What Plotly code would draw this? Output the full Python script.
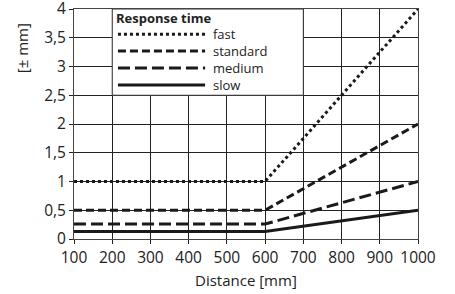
import plotly.graph_objects as go

distance = [100, 600, 1000]
fast = [1.0, 1.0, 4.0]
standard = [0.5, 0.5, 2.0]
medium = [0.26, 0.26, 1.0]
slow = [0.13, 0.13, 0.5]
series_names = ["fast", "standard", "medium", "slow"]
x_ticks = [100, 200, 300, 400, 500, 600, 700, 800, 900, 1000]
y_ticks = [0, 0.5, 1, 1.5, 2, 2.5, 3, 3.5, 4]

styles = {
    "fast": dict(dash="3px,3px", width=3),
    "standard": dict(dash="8px,4px", width=3),
    "medium": dict(dash="12px,5px", width=3),
    "slow": dict(dash="solid", width=3),
}
values = {"fast": fast, "standard": standard, "medium": medium, "slow": slow}

fig = go.Figure()
for name in series_names:
    fig.add_trace(go.Scatter(x=distance, y=values[name], mode="lines", name=name,
                             line=dict(color="#1a1a1a", **styles[name]), showlegend=False,
                             hoverinfo="skip"))

FONT = "Open Sans"
TXT = "#222"
# legend box covering grid
fig.add_shape(type="rect", x0=200, x1=700, y0=2.5, y1=4, xref="x", yref="y",
              fillcolor="white", line=dict(color="#333", width=1), layer="above")
leg_y = {"fast": 3.563, "standard": 3.268, "medium": 2.973, "slow": 2.678}
for name in series_names:
    fig.add_shape(type="line", x0=215, x1=443, y0=leg_y[name], y1=leg_y[name], xref="x", yref="y",
                  line=dict(color="#1a1a1a", width=3, dash=styles[name]["dash"]), layer="above")
fig.add_annotation(x=461, y=(leg_y["fast"] + leg_y["slow"]) / 2, xref="x", yref="y",
                   text="<br>".join(series_names), showarrow=False, align="left",
                   xanchor="left", yanchor="middle", borderpad=0,
                   font=dict(family=FONT, size=13, color=TXT))
fig.add_annotation(x=206, y=3.84, xref="x", yref="y", text="<b>Response time</b>", showarrow=False,
                   xanchor="left", yanchor="middle", borderpad=0,
                   font=dict(family=FONT, size=13, color=TXT))

fig.add_annotation(x=-0.151, y=0.83, xref="paper", yref="paper", text="[± mm]", showarrow=False,
                   textangle=-90, xanchor="center", yanchor="middle",
                   font=dict(family=FONT, size=15, color=TXT))
fig.add_annotation(x=0.5, y=(239 - 280) / 230, xref="paper", yref="paper", text="Distance [mm]",
                   showarrow=False, xanchor="center", yanchor="middle",
                   font=dict(family=FONT, size=15, color=TXT))

axis_common = dict(showgrid=True, gridcolor="#222", gridwidth=1, showline=True, linecolor="#444",
                   linewidth=1, mirror=True, ticks="outside", ticklen=4, tickcolor="#222",
                   tickfont=dict(family=FONT, size=15.5, color=TXT), zeroline=False,
                   automargin=False, ticklabeloverflow="allow")
fig.update_layout(
    width=455, height=294, margin=dict(l=74, r=37, t=9, b=55),
    plot_bgcolor="white", paper_bgcolor="white", separators=",.",
    xaxis=dict(range=[100, 1000], tickvals=x_ticks, **axis_common),
    yaxis=dict(range=[0, 4], tickvals=y_ticks, **axis_common),
)
fig.write_html("out.html", config={"displayModeBar": False, "staticPlot": True},
               post_script="document.body.style.margin='0';")
